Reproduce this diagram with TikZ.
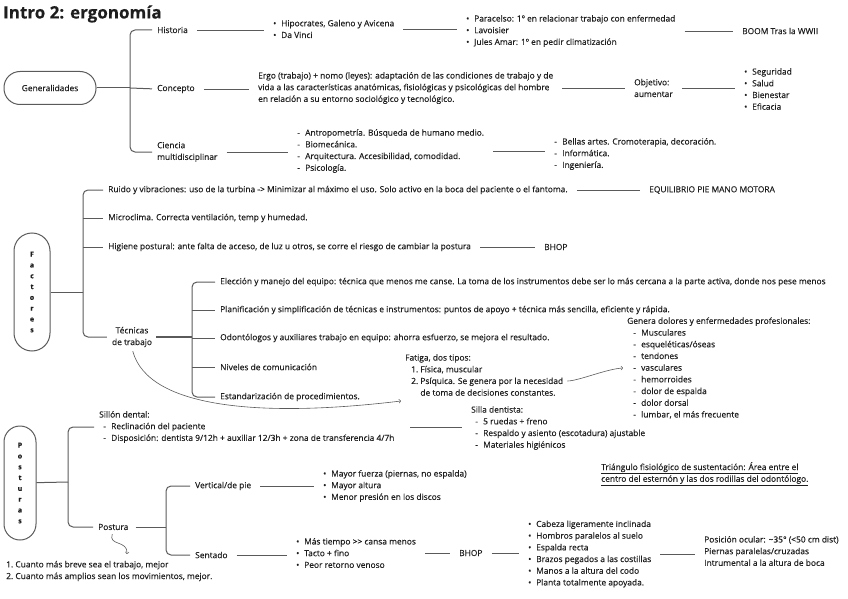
\documentclass[tikz,border=0pt]{standalone}
\usepackage{fontspec}
\setmainfont{Open Sans}[FakeBold=0.3]
\usepackage{xcolor}
\usepackage{tikz}

\definecolor{txtc}{HTML}{1E1E1E}
\definecolor{lnc}{HTML}{5A5A5A}
\newcommand{\fsz}{\fontsize{8.4}{11.7}\selectfont}
\newcommand{\itm}{\makebox[8pt][l]{•}}
\newcommand{\dsh}{\makebox[8pt][l]{-}}

\tikzset{
  txt/.style={anchor=west, align=left, inner sep=1pt, text=txtc, font=\fsz},
  pill/.style={draw=lnc, line width=1pt, text=txtc, align=center},
  vlet/.style={font=\bfseries\fontsize{7}{10.8}\selectfont},
  ln/.style={draw=lnc, line width=0.8pt, shorten <=8pt, shorten >=8pt},
  lk/.style={draw=lnc, line width=1pt},
  brk/.style={draw=lnc, line width=1pt, rounded corners=5pt, shorten >=4pt},
  ar/.style={draw=lnc, line width=0.6pt, ->, shorten <=3pt},
}

\begin{document}
\begin{tikzpicture}[x=1pt,y=-1pt]
  \useasboundingbox (0,0) rectangle (848,599);
  \node[anchor=west, inner sep=0pt, text=txtc, font=\bfseries\fontsize{17}{17}\selectfont] (title) at (3,14) {Intro 2: ergonomía};

  % generalidades
  \node[pill, font=\fsz, minimum width=92pt, minimum height=33pt, rounded corners=16pt] (gen) at (50,88) {Generalidades};
  \coordinate (gj) at (130,88);
  \node[txt] (hist) at (156,30) {Historia};
  \node[txt] (conc) at (156,89) {Concepto};
  \node[txt] (cien) at (156,152) {Ciencia\\multidisciplinar};
  \draw[lk] (gen) -- (gj);
  \draw[brk] (gj) |- (hist.west);
  \draw[brk] (gj) |- (cien.west);
  \draw[lk, shorten >=4pt] (gj) -- (conc.west);

  \node[txt] (histA) at (272,29) {\itm Hipocrates, Galeno y Avicena\\\itm Da Vinci};
  \node[txt] (histB) at (465,31) {\itm Paracelso: 1º en relacionar trabajo con enfermedad\\\itm Lavoisier\\\itm Jules Amar: 1º en pedir climatización};
  \node[txt] (histC) at (741,31) {BOOM Tras la WWII};
  \draw[ln] (hist.east) -- (hist.east -| histA.west);
  \draw[ln] (histA.east) -- (histA.east -| histB.west);
  \draw[ln] (histB.east) -- (histB.east -| histC.west);

  \node[txt] (concA) at (257,88) {Ergo (trabajo) + nomo (leyes): adaptación de las condiciones de trabajo y de\\vida a las características anatómicas, fisiológicas y psicológicas del hombre\\en relación a su entorno sociológico y tecnológico.};
  \node[txt] (obj) at (633,88) {Objetivo:\\aumentar};
  \node[txt] (objL) at (743,89) {\itm Seguridad\\\itm Salud\\\itm Bienestar\\\itm Eficacia};
  \draw[ln] (conc.east) -- (conc.east -| concA.west);
  \draw[ln] (concA.east) -- (concA.east -| obj.west);
  \draw[ln] (obj.east) -- (obj.east -| objL.west);

  \node[txt] (cienA) at (296,151) {\dsh Antropometría. Búsqueda de humano medio.\\\dsh Biomecánica.\\\dsh Arquitectura. Accesibilidad, comodidad.\\\dsh Psicología.};
  \node[txt] (cienB) at (553,154) {\dsh Bellas artes. Cromoterapia, decoración.\\\dsh Informática.\\\dsh Ingeniería.};
  \draw[ln] (cien.east) -- (cien.east -| cienA.west);
  \draw[ln] (cienA.east) -- (cienA.east -| cienB.west);

  % factores
  \node[pill, vlet, minimum width=36pt, minimum height=118pt, rounded corners=18pt] (fac) at (32,292) {F\\a\\c\\t\\o\\r\\e\\s};
  \coordinate (fj) at (83,292);
  \node[txt] (ruido) at (107,190) {Ruido y vibraciones: uso de la turbina -> Minimizar al máximo el uso. Solo activo en la boca del paciente o el fantoma.};
  \node[txt] (equi) at (648,190) {EQUILIBRIO PIE MANO MOTORA};
  \node[txt] (micro) at (107,218) {Microclima. Correcta ventilación, temp y humedad.};
  \node[txt] (hig) at (107,247) {Higiene postural: ante falta de acceso, de luz u otros, se corre el riesgo de cambiar la postura};
  \node[txt] (bhopA) at (543,247) {BHOP};
  \node[txt, anchor=center, align=center] (tec) at (132,337) {Técnicas\\de trabajo};
  \draw[lk] (fac) -- (fj);
  \draw[brk] (fj) |- (ruido.west);
  \draw[brk] (fj) |- (tec.west);
  \draw[lk, shorten >=4pt] (micro.west -| fj) -- (micro.west);
  \draw[lk, shorten >=4pt] (hig.west -| fj) -- (hig.west);
  \draw[ln] (ruido.east) -- (ruido.east -| equi.west);
  \draw[ln] (hig.east) -- (hig.east -| bhopA.west);

  \coordinate (tj) at (192,337);
  \node[txt] (elec) at (219,282) {Elección y manejo del equipo: técnica que menos me canse. La toma de los instrumentos debe ser lo más cercana a la parte activa, donde nos pese menos};
  \node[txt] (plan) at (219,310) {Planificación y simplificación de técnicas e instrumentos: puntos de apoyo + técnica más sencilla, eficiente y rápida.};
  \node[txt] (odon) at (219,338) {Odontólogos y auxiliares trabajo en equipo: ahorra esfuerzo, se mejora el resultado.};
  \node[txt] (nivel) at (219,367) {Niveles de comunicación};
  \node[txt] (estand) at (219,397) {Estandarización de procedimientos.};
  \draw[lk, line width=1.6pt, shorten <=3pt] (tec.east) -- (tj);
  \draw[brk] (tj) |- (elec.west);
  \draw[brk] (tj) |- (estand.west);
  \draw[lk, shorten >=4pt] (plan.west -| tj) -- (plan.west);
  \draw[lk, shorten >=4pt] (odon.west -| tj) -- (odon.west);
  \draw[lk, shorten >=4pt] (nivel.west -| tj) -- (nivel.west);

  \node[txt] (fat) at (404,375) {Fatiga, dos tipos:\\\hspace{6pt}1.\ Física, muscular\\\hspace{6pt}2.\ Psíquica. Se genera por la necesidad\\\hspace{6pt}\phantom{2.\ }de toma de decisiones constantes.};
  \coordinate (fatin) at (401,401);
  \draw[ar] (tec.south) .. controls (148,408) and (260,418) .. (fatin);

  \node[txt] (dol) at (626,368) {Genera dolores y enfermedades profesionales:\\\hspace{6pt}\dsh Musculares\\\hspace{6pt}\dsh esqueléticas/óseas\\\hspace{6pt}\dsh tendones\\\hspace{6pt}\dsh vasculares\\\hspace{6pt}\dsh hemorroides\\\hspace{6pt}\dsh dolor de espalda\\\hspace{6pt}\dsh dolor dorsal\\\hspace{6pt}\dsh lumbar, el más frecuente};
  \coordinate (dolin) at (623,368);
  \draw[ar] ([yshift=-6pt]fat.east) .. controls ([xshift=14pt,yshift=-6pt]fat.east) and (606,369) .. (dolin);

  \node[txt] (silla) at (470,428) {Silla dentista:\\\hspace{4pt}\dsh 5 ruedas + freno\\\hspace{4pt}\dsh Respaldo y asiento (escotadura) ajustable\\\hspace{4pt}\dsh Materiales higiénicos};
  \coordinate (sl) at (402,427);
  \draw[ln] (sl) -- (sl -| silla.west);

  % posturas
  \node[pill, vlet, minimum width=32pt, minimum height=114pt, rounded corners=16pt] (pos) at (20,483) {P\\o\\s\\t\\u\\r\\a\\s};
  \coordinate (pj) at (68,482);
  \node[txt] (sillon) at (98,427) {Sillón dental:\\\hspace{4pt}\dsh Reclinación del paciente\\\hspace{4pt}\dsh Disposición: dentista 9/12h + auxiliar 12/3h + zona de transferencia 4/7h};
  \node[txt] (post) at (97,527) {Postura};
  \draw[lk] (pos) -- (pj);
  \draw[brk] (pj) |- (sillon.west);
  \draw[brk] (pj) |- (post.west);

  \coordinate (qj) at (166,527);
  \node[txt] (vert) at (194,486) {Vertical/de pie};
  \node[txt] (sent) at (194,555) {Sentado};
  \draw[lk, shorten <=6pt] (post.east) -- (qj);
  \draw[brk] (qj) |- (vert.west);
  \draw[brk] (qj) |- (sent.west);

  \node[txt] (vertL) at (322,486) {\itm Mayor fuerza (piernas, no espalda)\\\itm Mayor altura\\\itm Menor presión en los discos};
  \draw[ln] (vert.east) -- (vert.east -| vertL.west);

  \node[txt] (sentL) at (295,553) {\itm Más tiempo >\kern0pt> cansa menos\\\itm Tacto + fino\\\itm Peor retorno venoso};
  \node[txt] (bhopB) at (458,553) {BHOP};
  \node[txt] (sentM) at (527,554) {\itm Cabeza ligeramente inclinada\\\itm Hombros paralelos al suelo\\\itm Espalda recta\\\itm Brazos pegados a las costillas\\\itm Manos a la altura del codo\\\itm Planta totalmente apoyada.};
  \node[txt] (sentN) at (703,551) {Posición ocular: \textasciitilde35° (<50 cm dist)\\Piernas paralelas/cruzadas\\Intrumental a la altura de boca};
  \draw[ln] (sent.east) -- (sent.east -| sentL.west);
  \draw[ln] (sentL.east) -- (sentL.east -| bhopB.west);
  \draw[ln] (bhopB.east) -- (bhopB.east -| sentM.west);
  \draw[ln] (sentM.east) -- (sentM.east -| sentN.west);

  \node[txt] (tri) at (600,474) {\underline{Triángulo fisiológico de sustentación: Área entre el}\\\underline{centro del esternón y las dos rodillas del odontólogo.}};

  \coordinate (numin) at (127,554);
  \draw[ar] (post.south) .. controls (108,546) and (128,540) .. (numin);
  \node[txt] (num) at (5,571) {1.\ Cuanto más breve sea el trabajo, mejor\\2.\ Cuanto más amplios sean los movimientos, mejor.};
\end{tikzpicture}
\end{document}
